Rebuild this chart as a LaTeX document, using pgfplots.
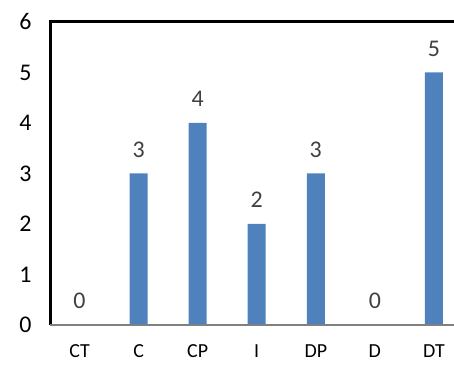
\documentclass[border=0pt]{standalone}
\usepackage{fontspec}
\setmainfont{Carlito}
\usepackage{pgfplots}
\pgfplotsset{compat=1.18}
\usetikzlibrary{calc}
\definecolor{barblue}{RGB}{79,129,189}
\definecolor{labelgray}{RGB}{64,64,64}

\begin{document}
\begin{tikzpicture}
\begin{axis}[
  scale only axis,
  width=404bp, height=303bp,
  xmin=-0.5, xmax=6.34,
  ymin=0, ymax=6,
  ytick={0,1,2,3,4,5,6},
  xtick={0,1,2,3,4,5,6},
  xticklabels={CT,C,CP,I,DP,D,DT},
  major tick length=0pt,
  axis line style={draw=none},
  /pgf/number format/assume math mode=true,
  xticklabel style={font=\fontsize{20}{24}\selectfont, text=black, yshift=-16bp},
  yticklabel style={font=\fontsize{24}{28}\selectfont, text=black, xshift=-15bp},
  clip=false,
  ybar, bar width=18bp,
  nodes near coords,
  every node near coord/.append style={font=\fontsize{24}{28}\selectfont, text=labelgray, anchor=south, inner sep=0pt, yshift=16bp},
]
\addplot[fill=barblue, draw=none] coordinates {
  (0,0) (1,3) (2,4) (3,2) (4,3) (5,0) (6,5)
};
\draw[black, line width=3bp] (rel axis cs:0,0) -- (rel axis cs:0,1) -- (rel axis cs:1,1);
\draw[gray, line width=2bp] (rel axis cs:0,0) -- (rel axis cs:1,0);
\end{axis}
\pgfresetboundingbox
\path ($(current axis.south west)+(-50bp,-42bp)$) rectangle ($(current axis.north east)+(0bp,22bp)$);
\end{tikzpicture}
\end{document}
